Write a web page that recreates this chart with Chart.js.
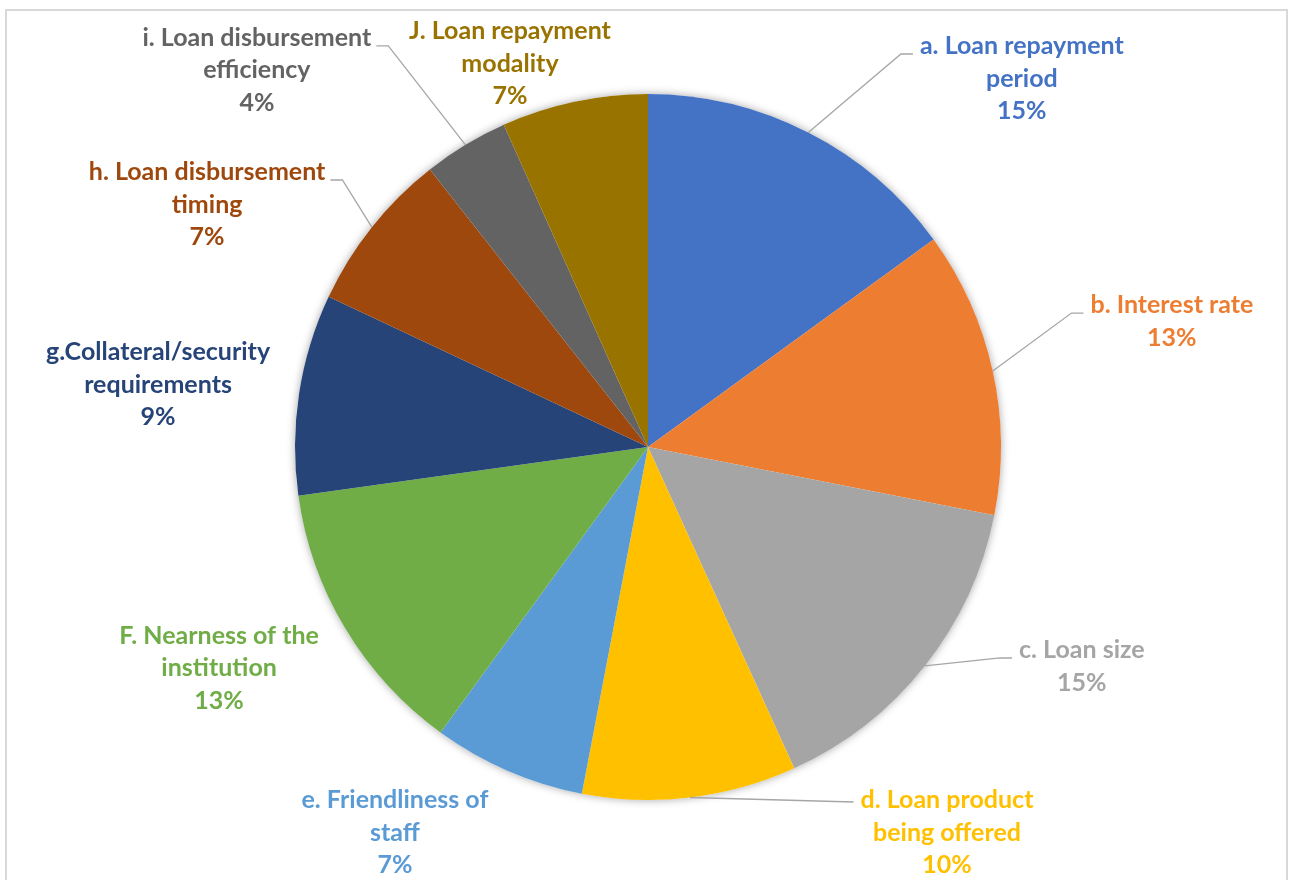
<!DOCTYPE html>
<html>
<head>
<meta charset="utf-8">
<script src="https://cdn.jsdelivr.net/npm/chart.js@4.4.1/dist/chart.umd.min.js"></script>
<style>
  html, body { margin: 0; padding: 0; background: #fff; }
  #frame { position: absolute; left: 5px; top: 9px; width: 1283px; height: 900px; border: 2px solid #D9D9D9; box-sizing: border-box; }
  #wrap { position: absolute; left: 0; top: 0; width: 1291px; height: 880px; }
</style>
</head>
<body>
<div id="frame"></div>
<div id="wrap"><canvas id="grafica"></canvas></div>
<script>
// categorias (cada una partida en lineas como en la imagen)
const categorias = [
  ['a. Loan repayment', 'period'],
  ['b. Interest rate'],
  ['c. Loan size'],
  ['d. Loan product', 'being offered'],
  ['e. Friendliness of', 'staff'],
  ['F. Nearness of the', 'institution'],
  ['g.Collateral/security', 'requirements'],
  ['h. Loan disbursement', 'timing'],
  ['i. Loan disbursement', 'efficiency'],
  ['J. Loan repayment', 'modality']
];

// porcentajes
const porcentajes = [15.0, 13.1, 15.1, 9.8, 7.0, 12.8, 9.2, 7.4, 3.9, 6.7];

const colores = ['#4472C4', '#ED7D31', '#A5A5A5', '#FFC000', '#5B9BD5',
                 '#70AD47', '#264478', '#9E480E', '#636363', '#997300'];

// posicion de cada etiqueta (centro de la primera linea) en unidades del radio
const posEtiquetas = [
  { p: [1.059, -1.136], guia: true },
  { p: [1.484, -0.402], guia: true },
  { p: [1.229, 0.575], guia: true },
  { p: [0.847, 1.0], guia: true, recta: true },
  { p: [-0.717, 1.0], guia: false },
  { p: [-1.215, 0.535], guia: false },
  { p: [-1.388, -0.269], guia: false },
  { p: [-1.249, -0.779], guia: true },
  { p: [-1.108, -1.159], guia: true },
  { p: [-0.391, -1.178], guia: false }
];

const fuente = 'bold 25px Lato, "Open Sans", sans-serif';
const altoLinea = 32.5;

// sombra suave alrededor de la tarta
const sombra = {
  id: 'sombra',
  beforeDatasetsDraw(chart) {
    const arc = chart.getDatasetMeta(0).data[0];
    if (!arc) return;
    const ctx = chart.ctx;
    ctx.save();
    ctx.beginPath();
    ctx.arc(arc.x, arc.y, arc.outerRadius, 0, Math.PI * 2);
    ctx.fillStyle = '#fff';
    ctx.shadowColor = 'rgba(0,0,0,0.35)';
    ctx.shadowBlur = 9;
    ctx.fill();
    ctx.restore();
  }
};

// etiquetas con lineas guia
const etiquetas = {
  id: 'etiquetas',
  afterDatasetsDraw(chart) {
    const ctx = chart.ctx;
    const meta = chart.getDatasetMeta(0);
    ctx.save();
    ctx.font = fuente;
    ctx.textAlign = 'center';
    ctx.textBaseline = 'middle';
    meta.data.forEach((arc, i) => {
      const { x, y, outerRadius, startAngle, endAngle } = arc.getProps(['x', 'y', 'outerRadius', 'startAngle', 'endAngle'], true);
      const conf = posEtiquetas[i];
      const tx = x + conf.p[0] * outerRadius;
      const ty = y + conf.p[1] * outerRadius;
      const lineas = categorias[i].concat([Math.round(porcentajes[i]) + '%']);

      if (conf.guia) {
        const mid = (startAngle + endAngle) / 2;
        const sx = x + Math.cos(mid) * outerRadius;
        const sy = y + Math.sin(mid) * outerRadius;
        const w = ctx.measureText(lineas[0]).width;
        const derecha = tx > x;
        const finX = derecha ? tx - w / 2 - 7 : tx + w / 2 + 5;
        const codoX = conf.recta ? finX : (derecha ? finX - 12 : finX + 12);
        const codoY = conf.recta ? ty + 2 : ty + 8;
        ctx.beginPath();
        ctx.moveTo(sx, sy);
        ctx.lineTo(codoX, codoY);
        ctx.lineTo(finX, codoY);
        ctx.strokeStyle = '#A6A6A6';
        ctx.lineWidth = 1.3;
        ctx.stroke();
      }

      ctx.fillStyle = colores[i];
      lineas.forEach((txt, j) => ctx.fillText(txt, tx, ty + j * altoLinea));
    });
    ctx.restore();
  }
};

const ctx = document.getElementById('grafica').getContext('2d');
new Chart(ctx, {
  type: 'pie',
  data: {
    labels: categorias.map(c => c.join(' ')),
    datasets: [{
      data: porcentajes,
      backgroundColor: colores,
      borderWidth: 0
    }]
  },
  options: {
    responsive: true,
    maintainAspectRatio: false,
    animation: false,
    layout: { padding: { left: 290, right: 285, top: 94, bottom: 80 } },
    plugins: {
      legend: { display: false },
      tooltip: { enabled: false }
    }
  },
  plugins: [sombra, etiquetas]
});
</script>
</body>
</html>
